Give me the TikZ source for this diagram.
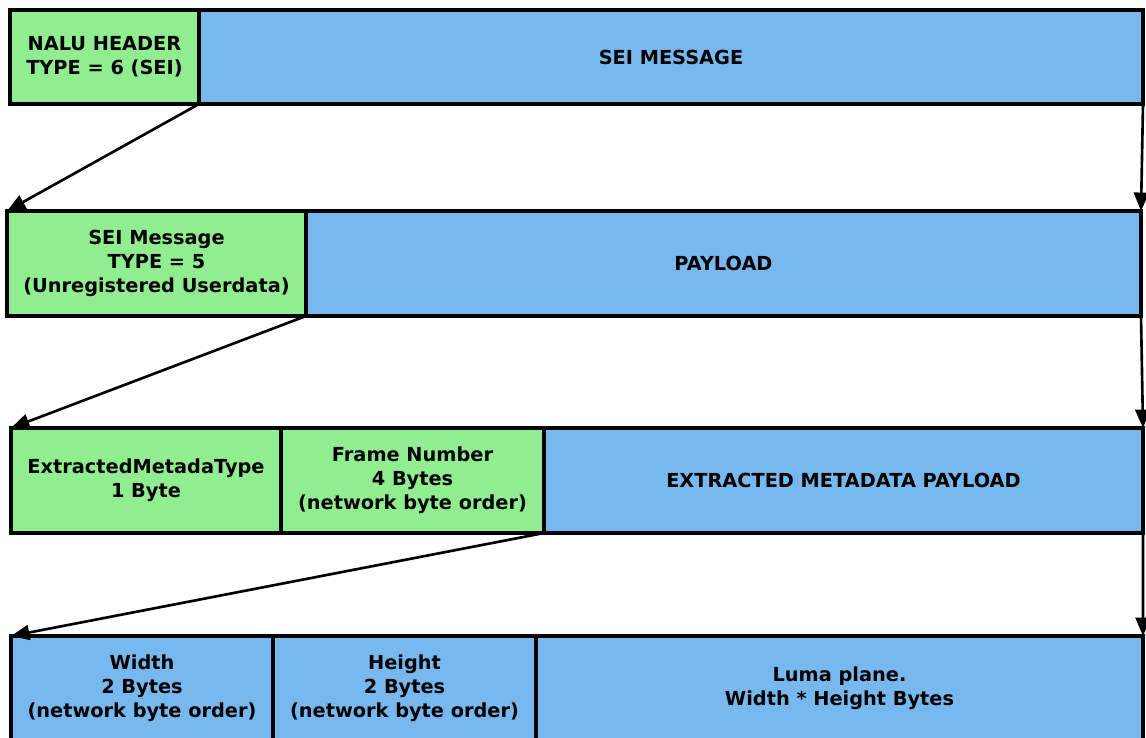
\documentclass[tikz,border=0pt]{standalone}
\usepackage{fontspec}
\setmainfont{DejaVu Sans}
\usetikzlibrary{positioning,arrows.meta}
\definecolor{hdrgreen}{RGB}{144,238,144}
\definecolor{dataBlue}{RGB}{119,185,238}
\tikzset{
  field/.style = {draw, line width=1.8pt, inner sep=0pt, outer sep=0pt,
                  anchor=north west, align=center,
                  font=\fontsize{11}{13.7}\selectfont\bfseries},
  hdr/.style   = {field, fill=hdrgreen},
  dat/.style   = {field, fill=dataBlue},
  row1/.style  = {minimum height=1.88cm},
  rowN/.style  = {minimum height=2.1cm},
  link/.style  = {line width=1.5pt, -{Triangle[length=10.5pt,width=8.5pt]}}
}
\begin{document}
\begin{tikzpicture}
  \useasboundingbox (0,0) rectangle (22.92,-14.74);
  \node [hdr, row1, minimum width=3.78cm] (nalu) at (0.2,-0.2)
        {NALU HEADER\\TYPE = 6 (SEI)};
  \node [dat, row1, minimum width=18.88cm, right=0pt of nalu] (sei)
        {SEI MESSAGE};

  \node [hdr, rowN, minimum width=5.98cm] (seitype) at (0.14,-4.22)
        {SEI Message\\TYPE = 5\\(Unregistered Userdata)};
  \node [dat, rowN, minimum width=16.7cm, right=0pt of seitype] (payload)
        {PAYLOAD};

  \node [hdr, rowN, minimum width=5.4cm] (metatype) at (0.22,-8.56)
        {ExtractedMetadaType\\1 Byte};
  \node [hdr, rowN, minimum width=5.26cm, right=0pt of metatype] (framenum)
        {Frame Number\\4 Bytes\\(network byte order)};
  \node [dat, rowN, minimum width=11.98cm, right=0pt of framenum] (metapayload)
        {EXTRACTED METADATA PAYLOAD};

  \node [dat, rowN, minimum width=5.24cm] (width) at (0.22,-12.72)
        {Width\\2 Bytes\\(network byte order)};
  \node [dat, rowN, minimum width=5.26cm, right=0pt of width] (height)
        {Height\\2 Bytes\\(network byte order)};
  \node [dat, rowN, minimum width=12.14cm, right=0pt of height] (luma)
        {Luma plane.\\Width * Height Bytes};

  \draw [link] (nalu.south east) -- (seitype.north west);
  \draw [link] (sei.south east) -- (payload.north east);
  \draw [link] (seitype.south east) -- (metatype.north west);
  \draw [link] (payload.south east) -- (metapayload.north east);
  \draw [link] (framenum.south east) -- (width.north west);
  \draw [link] (metapayload.south east) -- (luma.north east);
\end{tikzpicture}
\end{document}
